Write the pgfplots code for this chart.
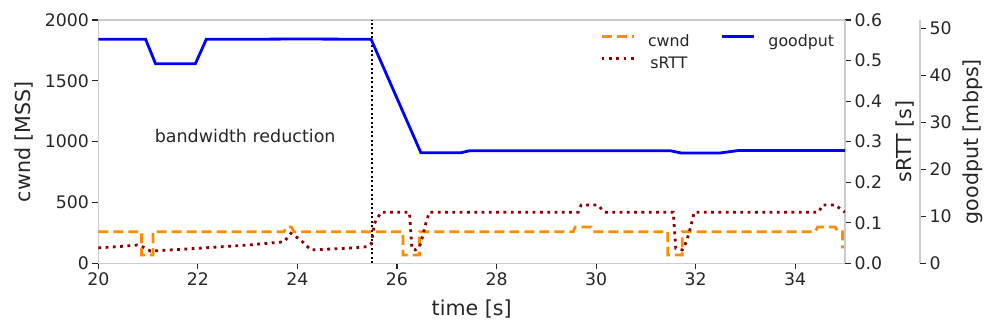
\documentclass[border=0pt]{standalone}
\usepackage{pgfplots}
\pgfplotsset{compat=1.18}
\usepackage{fontspec}
\setmainfont{DejaVu Sans}
\definecolor{cwndc}{HTML}{FF8C00}
\definecolor{rttc}{HTML}{8B0000}
\definecolor{gpc}{HTML}{0000FF}
\definecolor{spine}{HTML}{CCCCCC}
\definecolor{txt}{HTML}{262626}
\pgfplotsset{
  base/.style={
    scale only axis, width=746.7bp, height=243.3bp,
    xmin=20, xmax=35,
    tick align=outside,
    major tick length=6bp,
    every tick/.style={txt, line width=1.2bp},
    axis line style={spine, line width=1.4bp},
    tick label style={font=\fontsize{17.3bp}{20bp}\selectfont, text=txt},
    label style={font=\fontsize{20.6bp}{24bp}\selectfont, text=txt},
    /pgf/number format/assume math mode=true,
    /pgf/number format/1000 sep={},
  },
  cw/.style={cwndc, line width=2.8bp, dash pattern=on 10bp off 5bp},
  rt/.style={rttc, line width=2.8bp, dash pattern=on 2.8bp off 4.5bp},
  gp/.style={gpc, line width=2.8bp},
}
\begin{document}
\begin{tikzpicture}
\path[use as bounding box] (-98.3bp,-70.7bp) rectangle (897.7bp,263.3bp);
% cwnd axis
\begin{axis}[base,
  ymin=0, ymax=2000, ytick={0,500,1000,1500,2000},
  xtick={20,22,24,26,28,30,32,34},
  xtick pos=left, ytick pos=left,
  xlabel={time [s]}, ylabel={cwnd [MSS]},
  xlabel style={at={(axis description cs:0.5,0)}, anchor=center, yshift=-46bp},
  ylabel style={at={(axis description cs:0,0.5)}, anchor=center, yshift=74bp},
]
\addplot[cw] coordinates {
(20,260) (20.87,260) (20.87,68) (21.1,68) (21.1,260) (23.73,260) (23.78,298) (23.88,298) (23.93,260)
(26.12,260) (26.12,68) (26.45,68) (26.45,260) (29.54,260) (29.58,298) (29.9,298) (29.94,260)
(31.44,260) (31.44,68) (31.73,68) (31.73,260) (34.4,260) (34.45,298) (34.8,298) (34.86,260)
(34.95,260) (34.95,134) (35,134)};
\addplot[black, line width=2bp, dash pattern=on 2bp off 2.5bp] coordinates {(25.5,0) (25.5,2000)};
\node[anchor=base, font=\fontsize{17.5bp}{20bp}\selectfont, text=txt] at (axis cs:22.95,989) {bandwidth reduction};
\end{axis}
% sRTT axis
\begin{axis}[base,
  ymin=0, ymax=0.6, ytick={0,0.1,0.2,0.3,0.4,0.5,0.6},
  axis y line*=right, axis x line=none,
  yticklabel style={/pgf/number format/.cd, fixed, fixed zerofill, precision=1},
  ylabel={sRTT [s]},
  ylabel style={at={(axis description cs:1,0.5)}, anchor=center, yshift=-60bp},
]
\addplot[rt] coordinates {
(20,0.038) (20.5,0.042) (20.78,0.045) (20.9,0.04) (21.05,0.030) (22,0.037) (23,0.045) (23.73,0.053)
(23.87,0.074) (24.07,0.057) (24.27,0.033) (25,0.037) (25.4,0.041) (25.48,0.048) (25.55,0.099)
(25.68,0.126) (26.25,0.126) (26.3,0.035) (26.37,0.033) (26.45,0.040) (26.52,0.068) (26.58,0.099)
(26.65,0.126) (29.64,0.126) (29.7,0.144) (30.03,0.144) (30.17,0.126) (31.55,0.126) (31.6,0.037)
(31.73,0.033) (31.82,0.055) (31.9,0.09) (31.97,0.126) (34.47,0.126) (34.55,0.144) (34.8,0.144)
(35,0.126)};
\end{axis}
% goodput axis
\begin{axis}[base, width=821.7bp, xmax=36.507,
  ymin=0, ymax=51.8, ytick={0,10,20,30,40,50},
  axis y line*=right, axis x line=none,
  ylabel={goodput [mbps]},
  ylabel style={at={(axis description cs:1,0.5)}, anchor=center, yshift=-53bp},
  legend columns=2,
  legend style={at={(rel axis cs:0.6106,0.9396)}, anchor=north west, draw=none, fill=none,
    inner sep=0pt, row sep=6.5bp,
    nodes={inner sep=0pt, text height=12bp, text depth=3.5bp, text=txt, font=\fontsize{15.8bp}{18bp}\selectfont},
    /tikz/every odd column/.style={column sep=13bp},
    /tikz/every even column/.style={column sep=31bp}},
  legend image code/.code={\draw[#1] (0bp,6bp) -- (32bp,6bp);},
]
\addlegendimage{cw}
\addlegendentry{cwnd}
\addplot[gp] coordinates {
(20,47.7) (20.95,47.7) (21.15,42.5) (21.95,42.5) (22.17,47.7) (23,47.7) (24,47.75) (25.48,47.7)
(26.48,23.55) (27.29,23.55) (27.45,23.95) (31.5,23.95) (31.7,23.5) (32.5,23.5) (32.85,24.0) (35,24.0)};
\addlegendentry{goodput}
\addlegendimage{rt}
\addlegendentry{sRTT}
\end{axis}
\end{tikzpicture}
\end{document}
